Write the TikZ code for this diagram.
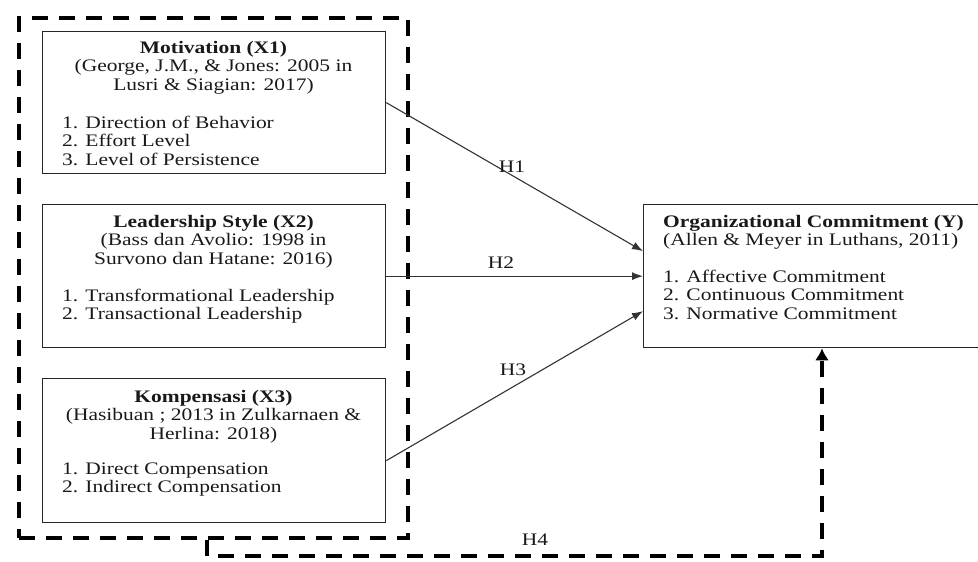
\documentclass[tikz,border=0pt]{standalone}
\usepackage{fontspec}
\setmainfont{Liberation Serif}[FakeStretch=1.22]
\usetikzlibrary{arrows.meta,calc}
\newcommand\fl{\rule{0pt}{13pt}}
\tikzset{
  box/.style={draw=black!85, line width=1.3pt, inner sep=0pt, anchor=north west},
  txt/.style={inner sep=0pt, font=\fontsize{17.6}{18.5}\selectfont, text=black!90},
  hd/.style={txt, align=center, anchor=north},
  lst/.style={txt, align=left, anchor=north west},
  conn/.style={draw=black!80, line width=1.1pt, -{Latex[length=11pt,width=8pt]}},
  grpbox/.style={draw=black, line width=4pt, dash pattern=on 16pt off 11pt, inner sep=0pt, anchor=north west},
  thk/.style={draw=black, line width=4pt, dash pattern=on 16pt off 11pt},
  lbl/.style={txt}
}
\begin{document}
\begin{tikzpicture}[x=1pt,y=-1pt]
\useasboundingbox (0,0) rectangle (978,562);
% boxes
\node[box, minimum width=343pt, minimum height=142pt] (x1) at (42,31) {};
\node[box, minimum width=343pt, minimum height=143pt] (x2) at (42,204) {};
\node[box, minimum width=343pt, minimum height=144pt] (x3) at (42,378) {};
\node[box, minimum width=345pt, minimum height=143pt] (y) at (643,204) {};
\node[grpbox, minimum width=389pt, minimum height=520pt] (grp) at (17,16) {};
% texts
\node[hd] (x1h) at (213.5,40) {\fl\textbf{Motivation (X1)}\\(George, J.M., \& Jones: 2005 in\\Lusri \& Siagian: 2017)};
\node[lst] (x1l) at (62,115) {\fl 1. Direction of Behavior\\2. Effort Level\\3. Level of Persistence};
\node[hd] (x2h) at (213.5,214) {\fl\textbf{Leadership Style (X2)}\\(Bass dan Avolio: 1998 in\\Survono dan Hatane: 2016)};
\node[lst] (x2l) at (62,288) {\fl 1. Transformational Leadership\\2. Transactional Leadership};
\node[hd] (x3h) at (213.5,389) {\fl\textbf{Kompensasi (X3)}\\(Hasibuan ; 2013 in Zulkarnaen \&\\Herlina: 2018)};
\node[lst] (x3l) at (62,461) {\fl 1. Direct Compensation\\2. Indirect Compensation};
\node[lst] (yh) at (663,214) {\fl\textbf{Organizational Commitment (Y)}\\(Allen \& Meyer in Luthans, 2011)};
\node[lst] (yl) at (663,269) {\fl 1. Affective Commitment\\2. Continuous Commitment\\3. Normative Commitment};
% connectors
\draw[conn] (x1.east) -- ([yshift=25pt]y.west);
\draw[conn] (x2.east) -- (y.west);
\draw[conn] ([yshift=-10pt]x3.east) -- ([yshift=-35pt]y.west);
\coordinate (h4a) at (207,556);
\coordinate (h4b) at (822,556);
\draw[thk, -{Latex[length=12pt,width=14pt]}] (grp.south -| h4a) -- (h4a) -- (h4b) -- (h4b |- y.south);
% labels
\node[lbl] (h1) at (512,167) {H1};
\node[lbl] (h2) at (501,263) {H2};
\node[lbl] (h3) at (513,370) {H3};
\node[lbl] (h4) at (535,540) {H4};
\end{tikzpicture}
\end{document}
